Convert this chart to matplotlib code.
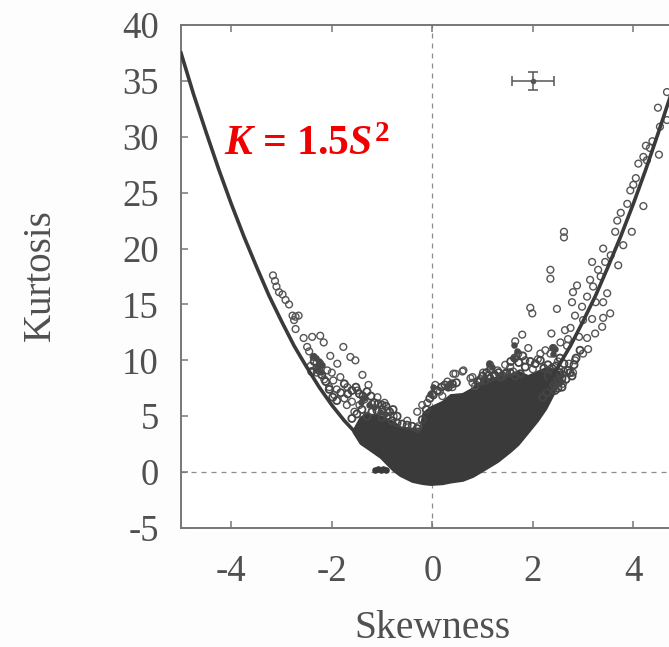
import matplotlib
matplotlib.use('Agg')
import matplotlib.pyplot as plt

plt.rcParams['font.family'] = ['Liberation Serif', 'DejaVu Serif']
plt.rcParams['axes.unicode_minus'] = False
plt.rcParams['mathtext.fontset'] = 'custom'
plt.rcParams['mathtext.rm'] = 'Liberation Serif:bold'
plt.rcParams['mathtext.it'] = 'Liberation Serif:italic:bold'
plt.rcParams['mathtext.bf'] = 'Liberation Serif:bold'

# ── fit curve ───────────────────────────────────────────────
curve_s = [-5, -4.75, -4.5, -4.25, -4, -3.75, -3.5, -3.25, -3, -2.75, -2.5, -2.25, -2,
           -1.75, -1.5, -1.25, 2.25, 2.5, 2.75, 3, 3.25, 3.5, 3.75, 4, 4.25, 4.5, 4.75]
curve_k = [37.5, 33.8, 30.4, 27.1, 24, 21.1, 18.4, 15.8, 13.5, 11.3, 9.4, 7.6, 6,
           4.6, 3.4, 2.3, 7.6, 9.4, 11.3, 13.5, 15.8, 18.4, 21.1, 24, 27.1, 30.4, 33.8]

# ── solid core of the point cloud: lower and upper edge ─────
cloud_s = [-1.57, -1.43, -1.3, -1.03, -0.78, -0.64, -0.4, -0.24, -0.18, -0.04, 0.2, 0.36,
           0.6, 0.8, 1.0, 1.3, 1.55, 1.7, 1.9, 2.09, 2.25, 2.4, 2.48, 2.6]
cloud_lo = [3.6, 2.6, 2.2, 1.35, 0.2, -0.27, -0.8, -0.95, -1.0, -1.07, -1.0, -0.85,
            -0.7, -0.35, 0.18, 1.0, 1.9, 2.5, 3.6, 4.65, 5.7, 7.0, 7.8, 9.0]
cloud_hi = [3.75, 4.9, 5.2, 5.0, 4.5, 4.0, 3.9, 3.9, 5.3, 5.8, 6.3, 6.9,
            7.0, 7.5, 8.2, 8.5, 8.7, 9.0, 8.6, 9.0, 9.3, 9.2, 9.0, 9.0]

# ── open circles outside the core ───────────────────────────
left_s = [-3.17, -3.13, -3.1, -3.05, -2.98, -2.92, -2.85, -2.78, -2.75, -2.72, -2.72, -2.66,
          -2.56, -2.39, -2.23, -2.16, -2.49, -2.45, -2.36, -2.3, -2.23, -2.03, -1.77, -1.63,
          -1.53, -1.39, -1.89, -2.09, -1.83, -1.97, -1.69, -1.49, -1.27, -1.09, -0.89, -0.77,
          -0.5, -0.28, -0.3, -0.1, 0.06, 0.3, 0.46, 0.62, 0.76, -2.42, -2.3, -2.15, -2.05,
          -1.95, -1.75, -1.6, -1.45, -1.35, -1.2, -1.0, -0.95, -2.0, -1.9, -1.7, -1.55,
          -0.2, 0.0, 0.15, 0.2, 0.4, 0.8, 0.85]
left_k = [17.6, 17.1, 16.6, 16.1, 15.9, 15.4, 15.0, 14.0, 13.6, 13.9, 12.8, 14.0,
          12.0, 12.1, 12.2, 11.6, 11.2, 10.8, 10.3, 9.8, 9.7, 10.4, 11.2, 10.3,
          10.0, 8.7, 9.7, 9.1, 8.5, 8.2, 7.6, 7.3, 7.8, 6.7, 5.5, 5.0,
          4.6, 4.1, 5.4, 6.2, 7.8, 8.1, 8.8, 9.1, 8.4, 9.5, 8.9, 8.3, 7.6,
          6.9, 6.6, 6.3, 6.0, 6.5, 6.1, 5.6, 6.2, 8.9, 7.4, 6.0, 5.4,
          6.0, 7.0, 7.2, 6.8, 7.6, 8.0, 7.7]
right_s = [4.49, 4.67, 4.67, 4.53, 4.33, 4.2, 4.1, 4.51, 4.27, 4.0, 3.94, 3.88, 4.2, 3.68,
           3.64, 3.97, 3.8, 3.4, 3.44, 3.3, 3.18, 3.7, 2.62, 2.62, 2.35, 2.35, 1.95, 1.99,
           2.48, 2.88, 2.8, 2.78, 3.14, 3.2, 3.08, 3.48, 3.4, 3.54, 3.4, 3.38, 3.18, 2.84,
           2.98, 3.24, 3.08, 3.1, 2.64, 2.37, 3.0, 2.84, 2.7, 2.41, 1.79, 1.65, 1.91, 1.71,
           1.15, 1.01, 1.55, 1.61, 2.0, 2.15, 0.6, 0.8, 0.42, 2.35, 2.8, 2.6, 4.38, 4.25,
           4.05, 3.75, 3.55, 3.35, 3.25, 3.0, 2.92, 2.75, 2.68, 2.55, 2.25, 2.1, 1.85, 1.45,
           1.3, 1.1, 0.95, 2.5, 2.62, 2.72]
right_k = [32.6, 34.0, 31.5, 30.9, 29.0, 28.2, 27.6, 28.4, 27.9, 25.7, 25.2, 24.0, 23.8, 22.5,
           21.5, 21.5, 20.3, 20.0, 18.8, 18.1, 18.8, 18.5, 21.0, 21.5, 18.1, 17.3, 14.7, 14.2,
           14.6, 16.7, 16.1, 15.2, 17.2, 16.6, 15.7, 16.0, 15.2, 14.2, 13.8, 13.0, 13.7, 14.0,
           14.8, 12.4, 12.0, 11.0, 12.7, 12.4, 10.6, 10.0, 11.9, 11.1, 12.3, 11.7, 11.1, 10.6,
           9.6, 8.9, 9.4, 9.0, 9.2, 10.6, 9.0, 8.5, 8.8, 10.6, 8.9, 7.9, 29.6, 29.2,
           26.3, 23.2, 19.4, 17.5, 15.2, 13.6, 12.1, 12.9, 11.3, 11.6, 10.9, 10.1, 10.0, 9.6,
           9.1, 8.6, 8.3, 9.9, 9.0, 9.7]

# ── crowded circles roughening the top and right of the core ─
crowd_s = [-2.4, -2.35, -2.3, -2.25, -2.2, -2.12, -2.05, -1.98, -1.9, -1.82, -1.75, -1.68, -1.6,
           -1.52, -1.45, -1.38, -1.3, -1.22, -1.15, -1.08, -1.0, -0.92, -0.85, -0.78, -0.7,
           -1.6, -1.5, -1.4, -1.3, -1.2, -1.1, -1.0, -0.9, -0.8, -0.7, -0.6, -0.5, -0.4,
           -0.3, -0.2, -0.12, -0.05, 0.02, 0.1, 0.18, 0.25, 0.32, 0.4, 0.48,
           0.9, 1.0, 1.08, 1.16, 1.24, 1.32, 1.4, 1.48, 1.56, 1.64, 1.72, 1.8,
           0.95, 1.05, 1.15, 1.25, 1.35, 1.45, 1.55, 1.65, 1.75, 1.85, 1.95, 2.05, 2.15,
           2.22, 2.3, 2.38, 2.46, 2.54, 2.62, 2.7, 2.78, 2.86, 2.94, 2.3, 2.42, 2.54,
           2.5, 2.58, 2.66, 2.74, 2.82, 2.42, 2.5, 2.58, 2.2, 2.28, 2.36, 2.44, 2.52]
crowd_k = [9.0, 9.9, 9.3, 9.1, 8.7, 8.1, 7.4, 6.7, 6.4, 7.1, 7.9, 7.0, 7.3,
           7.6, 7.0, 6.8, 7.2, 6.8, 6.2, 6.1, 6.0, 5.9, 5.4, 5.6, 5.0,
           4.8, 5.2, 5.6, 5.0, 5.4, 5.5, 4.9, 5.0, 4.6, 4.4, 4.3, 4.2, 4.1,
           3.9, 4.7, 5.6, 6.6, 6.9, 7.3, 7.6, 7.8, 7.6, 7.9, 8.0,
           8.1, 8.6, 8.9, 9.2, 8.7, 8.9, 8.6, 8.9, 9.9, 10.2, 9.8, 10.4,
           8.1, 8.2, 8.4, 8.6, 8.5, 8.8, 8.9, 8.6, 8.8, 9.4, 9.9, 9.7, 10.0,
           9.3, 9.6, 9.3, 9.5, 10.2, 9.7, 9.1, 8.6, 10.2, 10.9, 8.6, 8.7, 8.9,
           8.2, 8.4, 8.3, 8.9, 9.6, 7.8, 7.5, 7.6, 6.7, 7.1, 7.6, 7.3, 8.0]

# ── darker clumps where circles overlap solid ───────────────
clump_s = [-2.38, -2.32, -2.26, -2.2, -2.3, -2.22, -1.42, -1.35, -1.25, -1.15, -1.05, -0.95,
           2.38, 2.44, 2.4, 1.13, 1.18, 1.62, 1.68, 1.6, -0.05, 0.02, 0.3, 0.36]
clump_k = [10.4, 10.2, 9.9, 9.6, 9.3, 9.0, 6.3, 6.6, 6.0, 5.8, 5.4, 5.2,
           11.2, 11.0, 10.6, 9.8, 9.4, 11.4, 10.8, 10.2, 7.0, 7.6, 7.6, 8.0]

# small group lying on the zero line
low_s = [-1.13, -1.08, -1.03, -0.98, -0.93]
low_k = [0.2, 0.25, 0.2, 0.25, 0.2]

ytick_vals = [-5, 0, 5, 10, 15, 20, 25, 30, 35, 40]
xtick_vals = [-4, -2, 0, 2, 4]
err_s, err_k, err_ds, err_dk = [2], [35], [0.42], [0.8]

fig = plt.figure(figsize=(6.69, 6.47), dpi=100, facecolor='#fdfdfd')
ax = fig.add_axes([181 / 669, 1 - 528 / 647, 1 - 181 / 669, (528 - 25) / 647])
ax.set_facecolor('white')

dark = '#3a3a3a'
ax.axhline(0, color='#8c8c8c', lw=0.9, ls=(0, (4, 4)), zorder=1)
ax.axvline(0, color='#8c8c8c', lw=0.9, ls=(0, (4, 4)), zorder=1)

ax.fill_between(cloud_s, cloud_lo, cloud_hi, color=dark, lw=2, zorder=3)
ax.scatter(left_s, left_k, s=24, facecolors='none', edgecolors='#555555', linewidths=1.0, zorder=3)
ax.scatter(right_s, right_k, s=24, facecolors='none', edgecolors='#555555', linewidths=1.0, zorder=3)
ax.scatter(crowd_s, crowd_k, s=26, facecolors='none', edgecolors='#454545', linewidths=1.3, zorder=3)
ax.scatter(clump_s, clump_k, s=22, color='#484848', linewidths=0, zorder=3)
ax.scatter(low_s, low_k, s=14, color=dark, zorder=3)

ax.plot(curve_s[:16], curve_k[:16], color=dark, lw=2.6, zorder=4)
ax.plot(curve_s[16:], curve_k[16:], color=dark, lw=2.6, zorder=4)

ax.errorbar(err_s, err_k, xerr=err_ds, yerr=err_dk, color='#555555', lw=1.1,
            capsize=3.5, capthick=1.1, marker='o', ms=3, zorder=4)

ax.set_xlim(-5, 4.71)
ax.set_ylim(-5, 40)
ax.set_xticks(xtick_vals)
ax.set_yticks(ytick_vals)
ax.tick_params(direction='in', length=5, width=1.1, color='#777777',
               labelsize=26.5, labelcolor='#505050', top=True)
ax.tick_params(axis='x', pad=19)
ax.tick_params(axis='y', pad=16)
ax.spines['right'].set_visible(False)
for name in ['left', 'top', 'bottom']:
    ax.spines[name].set_color('#777777')
    ax.spines[name].set_linewidth(1.4)

ax.text(-4.15, 29.3, r'$K$ = 1.5$S^2$', color='#f00000', fontsize=30, fontweight='bold',
        va='center', ha='left', zorder=5)

fig.text(432 / 669, 1 - 628 / 647, 'Skewness', fontsize=28.5, color='#505050', ha='center', va='center')
fig.text(40 / 669, 1 - 275 / 647, 'Kurtosis', fontsize=28, color='#505050', rotation=90,
         ha='center', va='center')

plt.savefig('out.png', dpi=100)
